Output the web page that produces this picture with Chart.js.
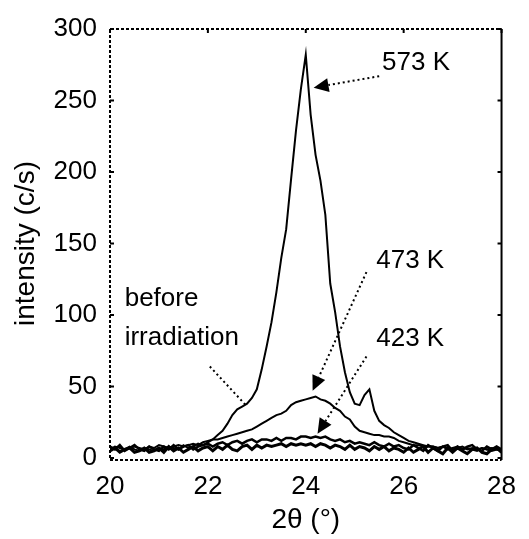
<!DOCTYPE html>
<html><head><meta charset="utf-8">
<script src="https://cdn.jsdelivr.net/npm/chart.js@4.4.0/dist/chart.umd.min.js"></script>
<style>html,body{margin:0;padding:0;background:#fff;}#wrap{width:529px;height:539px;position:relative;}</style>
</head><body><div id="wrap"><canvas id="c"></canvas></div>
<script>
const twoTheta = [20.0,20.1,20.2,20.3,20.4,20.5,20.6,20.7,20.8,20.9,21.0,21.1,21.2,21.3,21.4,21.5,21.6,21.7,21.8,21.9,22.0,
  22.1,22.2,22.3,22.4,22.5,22.6,22.7,22.8,22.9,23.0,23.1,23.2,23.3,23.4,23.5,23.6,23.7,23.8,23.9,24.0,
  24.1,24.2,24.3,24.4,24.5,24.6,24.7,24.8,24.9,25.0,25.1,25.2,25.3,25.4,25.5,25.6,25.7,25.8,25.9,26.0,
  26.1,26.2,26.3,26.4,26.5,26.6,26.7,26.8,26.9,27.0,27.1,27.2,27.3,27.4,27.5,27.6,27.7,27.8,27.9,28.0];
const beforeIrr = [5,7,4,6,7,4,5,7,4,5,7,4,8,5,7,4,6,8,5,7,8,
  5,8,6,9,6,5,8,9,6,9,7,9,8,9,10,8,10,9,10,9,
  10,8,10,9,7,9,8,6,9,6,8,7,5,8,6,8,5,7,6,4,
  7,4,6,8,4,7,5,3,7,4,7,5,3,6,7,4,3,6,7,4];
const k423 = [8,6,9,5,7,9,6,5,8,6,5,8,6,9,6,8,9,6,8,9,10,
  8,10,11,9,11,12,10,12,13,11,13,13,12,14,12,14,14,13,15,15,
  14,15,14,15,13,12,13,11,12,10,11,10,9,11,9,8,10,8,9,7,
  6,9,7,5,9,7,5,8,9,5,8,6,8,9,6,5,8,6,8,6];
const k473 = [6,8,7,6,7,8,7,6,8,7,9,8,7,8,9,8,9,10,9,11,12,
  13,13,14,15,16,17,18,19,20,22,24,26,28,30,31,33,37,39,40,41,
  42,43,41,40,38,35,33,29,27,22,19,18,17,16,16,15,15,14,12,11,
  10,9,9,8,8,8,7,8,7,6,7,8,6,7,6,7,6,7,6,6];
const k573 = [6,7,5,6,8,6,5,7,6,5,7,6,8,7,6,9,7,8,10,9,11,
  13,16,19,24,30,34,36,38,42,48,62,78,95,116,140,160,195,229,258,282,
  240,212,194,170,122,102,78,60,46,38,37,44,48,33,26,23,21,18,16,14,
  12,11,10,9,8,8,7,8,6,7,8,6,7,6,5,7,6,5,6,5];
const xTickValues = [20,22,24,26,28];
const yTickValues = [0,50,100,150,200,250,300];

// annotation labels (data coordinates)
const annotations = [
  {lines:['573 K'], tx:25.56, ty:[276], from:[25.5,267], to:[24.16,259], head:true},
  {lines:['473 K'], tx:25.44, ty:[138], from:[25.24,130], to:[24.14,47], head:true},
  {lines:['423 K'], tx:25.44, ty:[83], from:[25.24,71], to:[24.24,17], head:true},
  {lines:['before','irradiation'], tx:20.3, ty:[111,84], from:[22.04,64], to:[22.8,36], head:false}
];

const FONT = 'Liberation Sans, Arial, sans-serif';

const mk = (arr) => twoTheta.map((x,i)=>({x, y:arr[i]}));

const framePlugin = {
  id:'frame',
  afterDraw(chart){
    const {ctx, chartArea:a, scales:{x,y}} = chart;
    ctx.save();
    ctx.strokeStyle='#000';
    ctx.lineWidth=2;
    ctx.setLineDash([3,2]);
    ctx.beginPath();
    ctx.moveTo(a.left,a.bottom); ctx.lineTo(a.left,a.top); ctx.lineTo(a.right,a.top);
    ctx.moveTo(a.left,a.bottom+2); ctx.lineTo(a.right,a.bottom+2);
    ctx.stroke();
    ctx.setLineDash([]);
    ctx.beginPath(); ctx.moveTo(a.right,a.top); ctx.lineTo(a.right,a.bottom+2); ctx.stroke();
    ctx.lineWidth=2;
    yTickValues.forEach(v=>{
      const py=y.getPixelForValue(v);
      ctx.beginPath(); ctx.moveTo(a.left,py); ctx.lineTo(a.left+4,py);
      ctx.moveTo(a.right,py); ctx.lineTo(a.right-4,py); ctx.stroke();
    });
    xTickValues.forEach(v=>{
      const px=x.getPixelForValue(v);
      ctx.beginPath(); ctx.moveTo(px,a.top); ctx.lineTo(px,a.top+4); ctx.stroke();
    });
    // annotations
    ctx.fillStyle='#000';
    ctx.font = '26px ' + FONT;
    ctx.textAlign='left'; ctx.textBaseline='middle';
    annotations.forEach(an=>{
      an.lines.forEach((t,i)=>{
        ctx.fillText(t, x.getPixelForValue(an.tx), y.getPixelForValue(an.ty[i]));
      });
      const x1=x.getPixelForValue(an.from[0]), y1=y.getPixelForValue(an.from[1]);
      const x2=x.getPixelForValue(an.to[0]), y2=y.getPixelForValue(an.to[1]);
      const ang=Math.atan2(y2-y1,x2-x1);
      const hl = an.head ? 15 : 0;
      const ex = x2 - Math.cos(ang)*hl, ey = y2 - Math.sin(ang)*hl;
      ctx.setLineDash([2,3]);
      ctx.lineWidth=2;
      ctx.beginPath(); ctx.moveTo(x1,y1); ctx.lineTo(ex,ey); ctx.stroke();
      ctx.setLineDash([]);
      if(an.head){
        const w=7;
        ctx.beginPath();
        ctx.moveTo(x2,y2);
        ctx.lineTo(ex + Math.cos(ang+Math.PI/2)*w, ey + Math.sin(ang+Math.PI/2)*w);
        ctx.lineTo(ex - Math.cos(ang+Math.PI/2)*w, ey - Math.sin(ang+Math.PI/2)*w);
        ctx.closePath(); ctx.fill();
      }
    });
    ctx.restore();
  }
};

const ds = (label, arr, w) => ({label, data: mk(arr), borderColor:'#000', borderWidth:w, pointRadius:0, tension:0, fill:false});

new Chart(document.getElementById('c'), {
  type:'line',
  data:{ datasets:[ ds('before irradiation', beforeIrr, 3), ds('423 K', k423, 2.5), ds('473 K', k473, 2), ds('573 K', k573, 2) ] },
  options:{
    responsive:true, maintainAspectRatio:false, animation:false,
    layout:{ padding:{top:29, right:20, left:0, bottom:0} },
    plugins:{ legend:{display:false}, tooltip:{enabled:false} },
    scales:{
      x:{ type:'linear', min:20, max:28,
        grid:{display:false, drawTicks:false}, border:{display:false},
        afterBuildTicks(s){ s.ticks = xTickValues.map(v=>({value:v})); },
        ticks:{ font:{size:26, family:FONT}, color:'#000', padding:13, maxRotation:0, autoSkip:false },
        title:{ display:true, text:'2θ (°)', font:{size:28, family:FONT}, color:'#000', padding:{top:0,bottom:2} },
        afterFit(s){ s.height = 81; }
      },
      y:{ min:0, max:300,
        grid:{display:false, drawTicks:false}, border:{display:false},
        afterBuildTicks(s){ s.ticks = yTickValues.map(v=>({value:v})); },
        ticks:{ font:{size:26, family:FONT}, color:'#000', padding:13, autoSkip:false },
        title:{ display:true, text:'intensity (c/s)', font:{size:28, family:FONT}, color:'#000', padding:{top:9,bottom:0} },
        afterFit(s){ s.width = 110; }
      }
    }
  },
  plugins:[framePlugin]
});
</script></body></html>
